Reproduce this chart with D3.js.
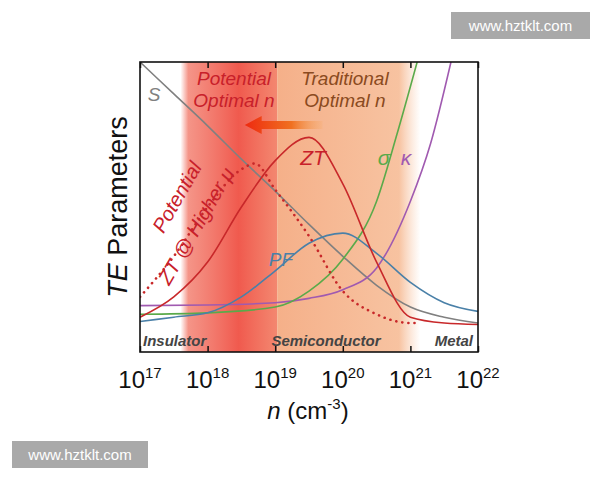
<!DOCTYPE html>
<html><head><meta charset="utf-8">
<script src="https://cdn.jsdelivr.net/npm/d3@7"></script>
<style>body{margin:0;background:#fff}</style>
</head><body><div class="chart"></div>
<script>
const logN = [17, 17.5, 18, 18.5, 19, 19.5, 20, 20.5, 21, 21.5, 22];
const sVals = [100, 89, 78, 66.5, 55.5, 44, 33, 23, 15.5, 12, 10];
const ztVals = [12, 19, 31, 50, 66, 74, 58, 31, 12, 10, 9.5];
const ztHiX = [17, 17.5, 18, 18.5, 18.7, 19, 19.5, 20, 20.5, 21, 21.1];
const ztHiVals = [19, 33, 50, 63, 65, 56, 40, 21, 13, 10, 10];
const pfVals = [10.5, 12, 13.5, 19, 28, 37.5, 41, 34, 24, 17, 14];
const sigX = [17, 18, 19, 19.5, 20, 20.5, 20.8, 21.1];
const sigVals = [13, 13.5, 15.5, 21, 32, 52, 75, 100];
const kapX = [17, 18, 19, 19.5, 20, 20.5, 21, 21.3, 21.6];
const kapVals = [16, 16.2, 17, 18.5, 21.5, 29, 52, 72, 100];
const tickExp = [17, 18, 19, 20, 21, 22];

const W = 600, H = 480;
const m = { left: 140, right: 478, top: 62, bottom: 352 };
const svg = d3.select(".chart").append("svg").attr("width", W).attr("height", H)
  .style("font-family", "Liberation Sans, Arial, sans-serif");
const x = d3.scaleLinear().domain([17, 22]).range([m.left, m.right]);
const y = d3.scaleLinear().domain([0, 100]).range([m.bottom, m.top]);

const defs = svg.append("defs");
defs.append("clipPath").attr("id", "clip").append("rect")
  .attr("x", m.left).attr("y", m.top).attr("width", m.right - m.left).attr("height", m.bottom - m.top);
function grad(id, stops) {
  const g = defs.append("linearGradient").attr("id", id).attr("x1", "0%").attr("x2", "100%").attr("y1", "0%").attr("y2", "0%");
  stops.forEach(s => g.append("stop").attr("offset", s[0]).attr("stop-color", s[1]).attr("stop-opacity", s[2]));
}
grad("redBand", [["0%", "#f27a6a", 0], ["8%", "#f27a6a", 0.8], ["60%", "#f05a4e", 1], ["100%", "#f27a60", 0.9]]);
grad("orBand", [["0%", "#f4a77c", 0.9], ["85%", "#f6b890", 0.85], ["100%", "#f8c8a8", 0]]);
grad("arrowG", [["0%", "#ee2a10", 1], ["60%", "#f07020", 1], ["100%", "#f6a860", 0.2]]);

const g = svg.append("g").attr("clip-path", "url(#clip)");
g.append("rect").attr("x", x(17.6)).attr("width", x(19.03) - x(17.6))
  .attr("y", m.top).attr("height", m.bottom - m.top).attr("fill", "url(#redBand)");
g.append("rect").attr("x", x(19.03)).attr("width", x(21.15) - x(19.03))
  .attr("y", m.top).attr("height", m.bottom - m.top).attr("fill", "url(#orBand)");

const line = d3.line().curve(d3.curveMonotoneX);
function curve(xs, ys, color, dash) {
  g.append("path").attr("d", line(xs.map((v, i) => [x(v), y(ys[i])])))
    .attr("fill", "none").attr("stroke", color).attr("stroke-width", dash ? 2.6 : 1.6)
    .attr("stroke-dasharray", dash || null).attr("stroke-linecap", dash ? "round" : null);
}
curve(logN, sVals, "#808080");
curve(kapX, kapVals, "#a05ab0");
curve(sigX, sigVals, "#5aaa4a");
curve(logN, pfVals, "#4a80a8");
curve(ztHiX, ztHiVals, "#c8282a", "0.1 6");
curve(logN, ztVals, "#c8282a");

// arrow
const ay = 125;
g.append("path").attr("d", `M${x(19.7)},${ay - 4} L${x(18.8)},${ay - 4} L${x(18.8)},${ay - 9} L${x(18.55)},${ay} L${x(18.8)},${ay + 9} L${x(18.8)},${ay + 4} L${x(19.7)},${ay + 4} Z`)
  .attr("fill", "url(#arrowG)");

// frame and ticks
svg.append("rect").attr("x", m.left).attr("y", m.top).attr("width", m.right - m.left).attr("height", m.bottom - m.top)
  .attr("fill", "none").attr("stroke", "#111").attr("stroke-width", 1.6);
svg.append("g").attr("transform", `translate(0,${m.bottom})`)
  .call(d3.axisBottom(x).tickValues(tickExp).tickSize(-6).tickFormat(""))
  .call(a => { a.select(".domain").remove(); a.selectAll("line").attr("stroke", "#111").attr("stroke-width", 1.5); });
svg.append("g").attr("transform", `translate(0,${m.top})`)
  .call(d3.axisTop(x).tickValues(tickExp).tickSize(-6).tickFormat(""))
  .call(a => { a.select(".domain").remove(); a.selectAll("line").attr("stroke", "#111").attr("stroke-width", 1.5); });

tickExp.forEach(e => {
  const t = svg.append("text").attr("x", x(e)).attr("y", 388).attr("text-anchor", "middle")
    .attr("font-size", 24).attr("fill", "#111");
  t.append("tspan").text("10");
  t.append("tspan").attr("font-size", 15).attr("dy", -10).text(e);
});
const xl = svg.append("text").attr("x", 308).attr("y", 419).attr("text-anchor", "middle").attr("font-size", 24).attr("fill", "#111");
xl.append("tspan").attr("font-style", "italic").text("n");
xl.append("tspan").text(" (cm");
xl.append("tspan").attr("font-size", 15).attr("dy", -10).text("-3");
xl.append("tspan").attr("dy", 10).text(")");
const yl = svg.append("text").attr("transform", "translate(127,207) rotate(-90)").attr("text-anchor", "middle")
  .attr("font-size", 27).attr("fill", "#111");
yl.append("tspan").attr("font-style", "italic").text("TE");
yl.append("tspan").text(" Parameters");

function label(t, px, py, color, size, opts = {}) {
  return svg.append("text").attr("x", px).attr("y", py).attr("fill", color).attr("font-size", size)
    .attr("font-style", "italic").attr("font-weight", opts.bold ? "bold" : null)
    .attr("text-anchor", opts.anchor || "middle").attr("transform", opts.rot || null).text(t);
}
label("Potential", 234, 85, "#c8202a", 19);
label("Optimal n", 234, 107, "#c8202a", 19);
label("Traditional", 345, 85, "#8a4a20", 19);
label("Optimal n", 345, 107, "#8a4a20", 19);
label("S", 154, 101, "#808080", 19);
label("ZT", 313, 165, "#c8202a", 21);
label("σ", 384, 165, "#5aaa4a", 21);
label("κ", 406, 165, "#a05ab0", 21);
label("PF", 281, 266, "#4a80a8", 19);
label("Potential", 0, 7, "#c8202a", 20, { rot: "translate(177,197) rotate(-60)" });
label("ZT @ Higher μ", 0, 7, "#c8202a", 20, { rot: "translate(196,226) rotate(-60)" });
label("Insulator", 143, 346, "#444", 15, { bold: 1, anchor: "start" });
label("Semiconductor", 326, 346, "#444", 15, { bold: 1 });
label("Metal", 473, 346, "#444", 15, { bold: 1, anchor: "end" });

// watermarks
[[451, 12, 139, 27], [12, 441, 136, 27]].forEach(b => {
  svg.append("rect").attr("x", b[0]).attr("y", b[1]).attr("width", b[2]).attr("height", b[3]).attr("fill", "#a9a9a9");
  svg.append("text").attr("x", b[0] + b[2] / 2).attr("y", b[1] + 19).attr("text-anchor", "middle")
    .attr("fill", "#fff").attr("font-size", 15).text("www.hztklt.com");
});
</script></body></html>
